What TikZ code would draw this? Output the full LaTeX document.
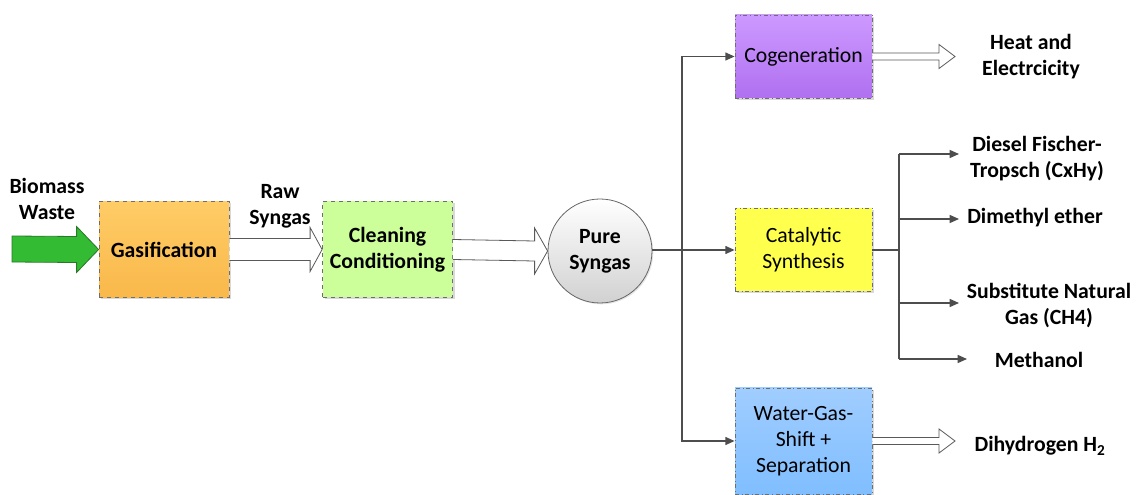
\documentclass[tikz,border=0pt]{standalone}
\usepackage{fontspec}
\setmainfont{Carlito}
\usetikzlibrary{calc,shadows,arrows.meta}
\definecolor{linegray}{HTML}{4D4D4D}
\definecolor{boxborder}{HTML}{6E6E6E}
\begin{document}
\begin{tikzpicture}[x=0.75pt,y=-0.75pt,
  font=\fontsize{16.3}{19.5}\selectfont,
  procbox/.style={draw=boxborder, line width=0.6pt, minimum width={130*0.75pt}, minimum height={96*0.75pt}, align=center, inner sep=1pt, drop shadow={shadow xshift=1.5pt, shadow yshift=-1.5pt, fill=black!25, opacity=0.6}},
  leftbox/.style={procbox, dashed, font=\fontsize{16.3}{19.5}\selectfont\bfseries},
  rightbox/.style={procbox, dash dot, minimum width={137*0.75pt}, minimum height={83*0.75pt}},
  outlabel/.style={align=center, font=\fontsize{16.3}{19.5}\selectfont\bfseries, inner sep=0pt},
  conn/.style={draw=linegray, line width=1.1pt, -{Triangle[length=7pt,width=6pt]}},
  plain/.style={draw=linegray, line width=1.1pt},
  hollow/.style={draw=black!65, fill=white, line width=0.6pt, line join=miter}
]
\useasboundingbox (0,0) rectangle (1136,495);

% nodes
\node[leftbox, top color={rgb,255:red,255;green,204;blue,102}, bottom color={rgb,255:red,249;green,184;blue,74}] (gas) at (164,249.5) {Gasification};
\node[leftbox, fill={rgb,255:red,204;green,255;blue,153}] (clean) at (387.5,249.5) {Cleaning\\Conditioning};
\node[circle, draw=black!60, line width=0.6pt, minimum size={104*0.75pt}, inner sep=0pt, align=center, top color=white, bottom color=black!18, font=\fontsize{16.3}{19.5}\selectfont\bfseries, drop shadow={shadow xshift=1pt, shadow yshift=-1pt, fill=black!20, opacity=0.5}] (pure) at (600,251) {Pure\\Syngas};

\node[rightbox, top color={rgb,255:red,204;green,153;blue,255}, bottom color={rgb,255:red,176;green,112;blue,240}] (cogen) at (803.5,56.5) {Cogeneration};
\node[rightbox, fill={rgb,255:red,255;green,255;blue,77}] (cat) at (803.5,250) {Catalytic\\Synthesis};
\node[rightbox, minimum height={106*0.75pt}, top color={rgb,255:red,160;green,205;blue,255}, bottom color={rgb,255:red,128;green,190;blue,255}] (wgs) at (803.5,441) {Water-Gas-\\Shift +\\Separation};

% labels
\node[outlabel] (biomass) at (47,199) {Biomass\\Waste};
\node[outlabel] (raw) at (280,206) {Raw\\Syngas};
\node[outlabel] (heat) at (1031,57) {Heat and\\Electrcicity};
\node[outlabel] (diesel) at (1037,159) {Diesel Fischer-\\Tropsch (CxHy)};
\node[outlabel] (dme) at (1035,218) {Dimethyl ether};
\node[outlabel] (sng) at (1049,306) {Substitute Natural\\Gas (CH4)};
\node[outlabel] (meoh) at (1039,360) {Methanol};
\node[outlabel] (h2) at (1040,446) {Dihydrogen H\textsubscript{2}};

% green input arrow
\coordinate (bstart) at (12,249);
\draw[draw={rgb,255:red,40;green,120;blue,40}, fill={rgb,255:red,51;green,187;blue,51}, line width=0.6pt]
  ($(bstart)+(0,-13)$) -- ($(gas.west)+(-22,-13)$) -- ($(gas.west)+(-22,-23)$) -- (gas.west)
  -- ($(gas.west)+(-22,23)$) -- ($(gas.west)+(-22,13)$) -- ($(bstart)+(0,13)$) -- cycle;

% hollow arrows
\draw[hollow] ($(gas.east)+(0,-11)$) -- ($(clean.west)+(-12,-11)$) -- ($(clean.west)+(-12,-22)$) -- (clean.west)
  -- ($(clean.west)+(-12,22)$) -- ($(clean.west)+(-12,11)$) -- ($(gas.east)+(0,11)$);
\draw[hollow] ($(clean.east)+(0,-10)$) -- ($(pure.west)+(-13,-10)$) -- ($(pure.west)+(-13,-23)$) -- (pure.west)
  -- ($(pure.west)+(-13,23)$) -- ($(pure.west)+(-13,10)$) -- ($(clean.east)+(0,10)$);

\coordinate (heatend) at (955,56.5);
\draw[hollow] ($(cogen.east)+(0,-3.5)$) -- ($(heatend)+(-16,-3.5)$) -- ($(heatend)+(-16,-12)$) -- (heatend)
  -- ($(heatend)+(-16,12)$) -- ($(heatend)+(-16,3.5)$) -- ($(cogen.east)+(0,3.5)$);
\coordinate (h2end) at (955,441);
\draw[hollow] ($(wgs.east)+(0,-3.5)$) -- ($(h2end)+(-16,-3.5)$) -- ($(h2end)+(-16,-12)$) -- (h2end)
  -- ($(h2end)+(-16,12)$) -- ($(h2end)+(-16,3.5)$) -- ($(wgs.east)+(0,3.5)$);

% distribution from pure syngas
\coordinate (split) at (682,250);
\draw[plain] (pure.east |- split) -- (split);
\draw[conn] (split) -- (cat.west);
\draw[conn] (split) -- (682,56.5) -- (cogen.west);
\draw[conn] (split) -- (682,441) -- (wgs.west);

% catalytic products
\coordinate (cj) at (899,250);
\draw[plain] (cat.east) -- (cj);
\coordinate (e1) at (959,154);
\coordinate (e2) at (959,219);
\coordinate (e3) at (959,303);
\coordinate (e4) at (967,359);
\draw[plain] (899,154) -- (899,359);
\draw[conn] (899,154) -- (e1);
\draw[conn] (899,219) -- (e2);
\draw[conn] (899,303) -- (e3);
\draw[conn] (899,359) -- (e4);
\end{tikzpicture}
\end{document}
